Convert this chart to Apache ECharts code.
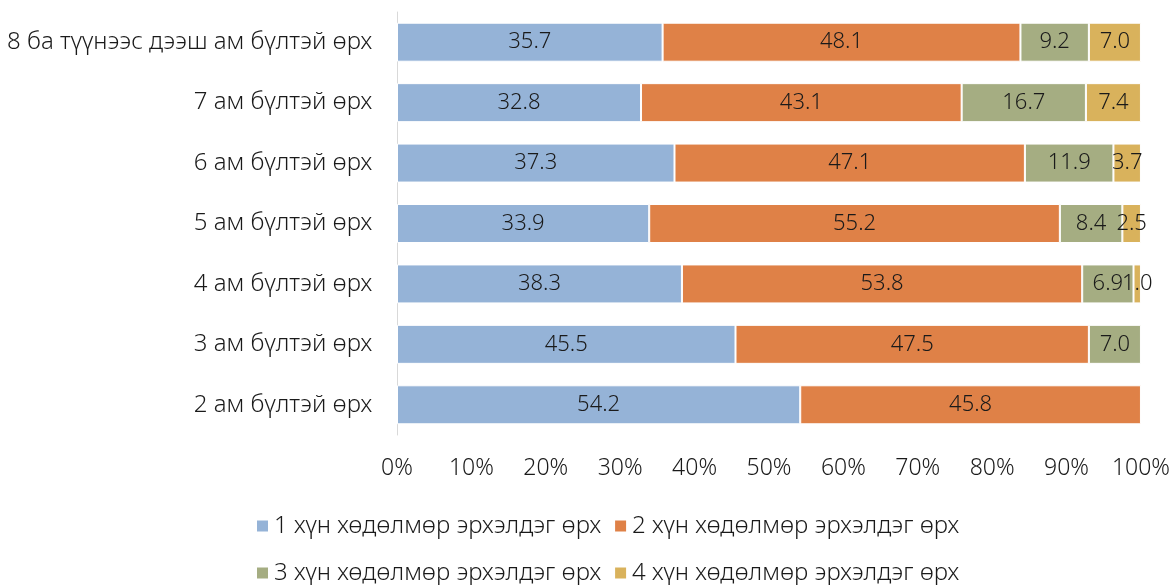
<!DOCTYPE html>
<html>
<head>
<meta charset="utf-8">
<script src="https://cdn.jsdelivr.net/npm/echarts@6/dist/echarts.min.js"></script>
<style>html,body{margin:0;padding:0;background:#fff;}#c{width:1173px;height:585px;}</style>
</head>
<body>
<div id="c"></div>
<script>
const categories = ['2 ам бүлтэй өрх','3 ам бүлтэй өрх','4 ам бүлтэй өрх','5 ам бүлтэй өрх','6 ам бүлтэй өрх','7 ам бүлтэй өрх','8 ба түүнээс дээш ам бүлтэй өрх'];
const seriesNames = ['1 хүн хөдөлмөр эрхэлдэг өрх','2 хүн хөдөлмөр эрхэлдэг өрх','3 хүн хөдөлмөр эрхэлдэг өрх','4 хүн хөдөлмөр эрхэлдэг өрх'];
const s1 = [54.2, 45.5, 38.3, 33.9, 37.3, 32.8, 35.7];
const s2 = [45.8, 47.5, 53.8, 55.2, 47.1, 43.1, 48.1];
const s3 = [null, 7.0, 6.9, 8.4, 11.9, 16.7, 9.2];
const s4 = [null, null, 1.0, 2.5, 3.7, 7.4, 7.0];
const colors = ['#95B3D7','#DF8147','#A5AD82','#D9B25C'];
const font = 'Noto Sans';
const fw = 300;
const fs = 24;
const chart = echarts.init(document.getElementById('c'));
const mk = (name, data, i) => ({
  name, type:'bar', stack:'t', data, barWidth:39,
  itemStyle:{color:colors[i], borderColor:'#fff', borderWidth:1},
  label:{show:true, position:'inside', color:'#1a1a1a', fontSize:22, fontFamily:font, fontWeight:fw,
    formatter:p => p.value==null ? '' : Number(p.value).toFixed(1)},
  emphasis:{disabled:true}
});
chart.setOption({
  animation:false,
  textStyle:{fontFamily:font},
  grid:{left:397, right:32, top:12, bottom:150, containLabel:false},
  xAxis:{type:'value', min:0, max:100, interval:10,
    axisLine:{show:false}, axisTick:{show:false}, splitLine:{show:false},
    axisLabel:{formatter:'{value}%', color:'#1a1a1a', fontSize:23, fontFamily:font, fontWeight:fw, margin:22}},
  yAxis:{type:'category', data:categories,
    axisLine:{show:true, lineStyle:{color:'#d9d9d9', width:1}}, axisTick:{show:false},
    axisLabel:{color:'#1a1a1a', fontSize:fs, fontFamily:font, fontWeight:fw, margin:25}},
  legend:[
    {data:[seriesNames[0], seriesNames[1]], top:509, left:250, itemWidth:13, itemHeight:13, itemGap:12,
      icon:'rect', textStyle:{fontSize:fs, color:'#1a1a1a', fontFamily:font, fontWeight:fw}},
    {data:[seriesNames[2], seriesNames[3]], top:556, left:250, itemWidth:13, itemHeight:13, itemGap:12,
      icon:'rect', textStyle:{fontSize:fs, color:'#1a1a1a', fontFamily:font, fontWeight:fw}}
  ],
  series:[mk(seriesNames[0],s1,0), mk(seriesNames[1],s2,1), mk(seriesNames[2],s3,2), mk(seriesNames[3],s4,3)]
});
</script>
</body>
</html>
